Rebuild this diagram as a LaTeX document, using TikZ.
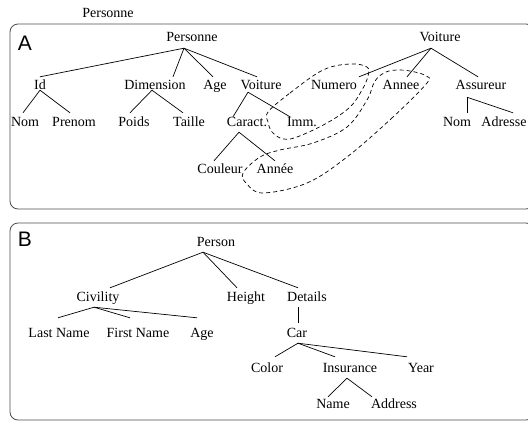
\documentclass[tikz,border=0pt]{standalone}
\usepackage{fontspec}
\setmainfont{Liberation Serif}
\newfontfamily\tagfont{Liberation Sans}
\begin{document}
\begin{tikzpicture}[x=1pt,y=-1pt,
  lbl/.style={inner sep=0pt, font=\fontsize{14}{16}\selectfont, text height=9.5pt, text depth=2.5pt},
  panel/.style={draw=black!70, line width=0.8pt, rounded corners=8pt},
  tag/.style={font=\tagfont\fontsize{21}{24}\selectfont, inner sep=0pt},
  edge/.style={line width=0.7pt},
  group/.style={line width=0.7pt, dash pattern=on 4pt off 3pt},
]
\useasboundingbox (0,0) rectangle (528,421);

% ---------- panel A ----------
\draw[panel] (10,24) rectangle (534,209);
\node[tag] (tagA) at (25,43) {A};
\node[lbl] (title) at (108,14) {Personne};

\node[lbl] (pA) at (192,38) {Personne};
\node[lbl] (id) at (40,86) {Id};
\node[lbl] (dim) at (155,86) {Dimension};
\node[lbl] (age) at (215,86) {Age};
\node[lbl] (voitL) at (261,86) {Voiture};
\node[lbl] (nom1) at (25,123) {Nom};
\node[lbl] (prenom) at (74,123) {Prenom};
\node[lbl] (poids) at (134,123) {Poids};
\node[lbl] (taille) at (189,123) {Taille};
\node[lbl] (caract) at (247,123) {Caract.};
\node[lbl] (imm) at (302,123) {Imm.};
\node[lbl] (couleur) at (220,170) {Couleur};
\node[lbl] (anneeL) at (275,170) {Année};

\node[lbl] (voitR) at (440,38) {Voiture};
\node[lbl] (numero) at (334,86) {Numero};
\node[lbl] (anneeR) at (401,86) {Annee};
\node[lbl] (assur) at (481,86) {Assureur};
\node[lbl] (nom2) at (457,123) {Nom};
\node[lbl] (adresse) at (504,123) {Adresse};

\draw[edge] ([xshift=-8pt,yshift=-4pt]pA.south) -- ([yshift=3pt]id.north);
\draw[edge] ([xshift=-8pt,yshift=-4pt]pA.south) -- ([xshift=18pt,yshift=3pt]dim.north);
\draw[edge] ([xshift=-8pt,yshift=-4pt]pA.south) -- ([xshift=-2pt,yshift=3pt]age.north);
\draw[edge] ([xshift=-8pt,yshift=-4pt]pA.south) -- ([xshift=-4pt,yshift=3pt]voitL.north);
\draw[edge] ([yshift=2pt]id.south) -- ([xshift=-2pt,yshift=4pt]nom1.north);
\draw[edge] ([yshift=2pt]id.south) -- ([xshift=-4pt,yshift=4pt]prenom.north);
\draw[edge] ([xshift=-3pt,yshift=2pt]dim.south) -- ([xshift=-4pt,yshift=4pt]poids.north);
\draw[edge] ([xshift=-3pt,yshift=2pt]dim.south) -- ([xshift=-6pt,yshift=4pt]taille.north);
\draw[edge] ([xshift=-13pt]voitL.south) -- ([xshift=-14pt]caract.north);
\draw[edge] ([xshift=-13pt]voitL.south) -- ([xshift=-12pt]imm.north);
\draw[edge] ([xshift=-8pt,yshift=-3pt]caract.south) -- ([xshift=-6pt,yshift=3pt]couleur.north);
\draw[edge] ([xshift=-8pt,yshift=-3pt]caract.south) -- ([yshift=3pt]anneeL.north);

\draw[edge] ([xshift=-9pt,yshift=-4pt]voitR.south) -- ([xshift=25pt,yshift=3pt]numero.north);
\draw[edge] ([xshift=-9pt,yshift=-4pt]voitR.south) -- ([xshift=6pt,yshift=3pt]anneeR.north);
\draw[edge] ([xshift=-9pt,yshift=-4pt]voitR.south) -- ([xshift=-3pt,yshift=3pt]assur.north);
\draw[edge] ([xshift=-14pt,yshift=-5pt]assur.south) -- ([xshift=10pt,yshift=4pt]nom2.north);
\draw[edge] ([xshift=-14pt,yshift=-5pt]assur.south) -- ([xshift=9pt,yshift=4pt]adresse.north);

% groups of equivalent fields
\draw[group] plot[smooth cycle, tension=0.6] coordinates {
  (268,112) (290,93) (323,70) (350,64) (367,67) (368,76) (362,90)
  (350,107) (327,123) (297,137) (283,139) (272,132) (268,122)};
\draw[group] plot[smooth cycle, tension=0.6] coordinates {
  (427,83) (393,117) (347,157) (307,183) (263,193) (247,184) (243,173)
  (260,157) (280,150) (313,143) (347,127) (367,100) (375,81) (386,72)
  (400,70) (415,72) (426,76)};

% ---------- panel B ----------
\draw[panel] (10,223) rectangle (534,420);
\node[tag] (tagB) at (25,239) {B};

\node[lbl] (person) at (216,243) {Person};
\node[lbl] (civ) at (98,298) {Civility};
\node[lbl] (height) at (246,298) {Height};
\node[lbl] (details) at (307,298) {Details};
\node[lbl] (lastn) at (59,334) {Last Name};
\node[lbl] (firstn) at (138,334) {First Name};
\node[lbl] (ageB) at (202,334) {Age};
\node[lbl] (car) at (297,334) {Car};
\node[lbl] (color) at (267,369) {Color};
\node[lbl] (insur) at (350,369) {Insurance};
\node[lbl] (year) at (421,369) {Year};
\node[lbl] (name) at (333,405) {Name};
\node[lbl] (address) at (394,405) {Address};

\draw[edge] ([xshift=-13pt,yshift=-3pt]person.south) -- ([xshift=12pt,yshift=4pt]civ.north);
\draw[edge] ([xshift=-13pt,yshift=-3pt]person.south) -- ([xshift=-9pt,yshift=4pt]height.north);
\draw[edge] ([xshift=-13pt,yshift=-3pt]person.south) -- ([xshift=-9pt,yshift=4pt]details.north);
\draw[edge] ([xshift=-4pt,yshift=-3pt]civ.south) -- ([xshift=-1pt,yshift=10pt]lastn.north);
\draw[edge] ([xshift=-4pt,yshift=-3pt]civ.south) -- ([xshift=-8pt,yshift=10pt]firstn.north);
\draw[edge] ([xshift=-4pt,yshift=-3pt]civ.south) -- ([xshift=-5pt,yshift=10pt]ageB.north);
\draw[edge] ([xshift=-9pt,yshift=-3pt]details.south) -- ([xshift=1pt,yshift=5pt]car.north);
\draw[edge] ([xshift=1pt,yshift=-3pt]car.south) -- ([xshift=8pt,yshift=6pt]color.north);
\draw[edge] ([xshift=1pt,yshift=-3pt]car.south) -- ([xshift=-15pt,yshift=6pt]insur.north);
\draw[edge] ([xshift=1pt,yshift=-3pt]car.south) -- ([xshift=-14pt,yshift=6pt]year.north);
\draw[edge] ([xshift=-3pt,yshift=-3pt]insur.south) -- ([xshift=-5pt,yshift=2pt]name.north);
\draw[edge] ([xshift=-3pt,yshift=-3pt]insur.south) -- ([xshift=-22pt,yshift=2pt]address.north);
\end{tikzpicture}
\end{document}
